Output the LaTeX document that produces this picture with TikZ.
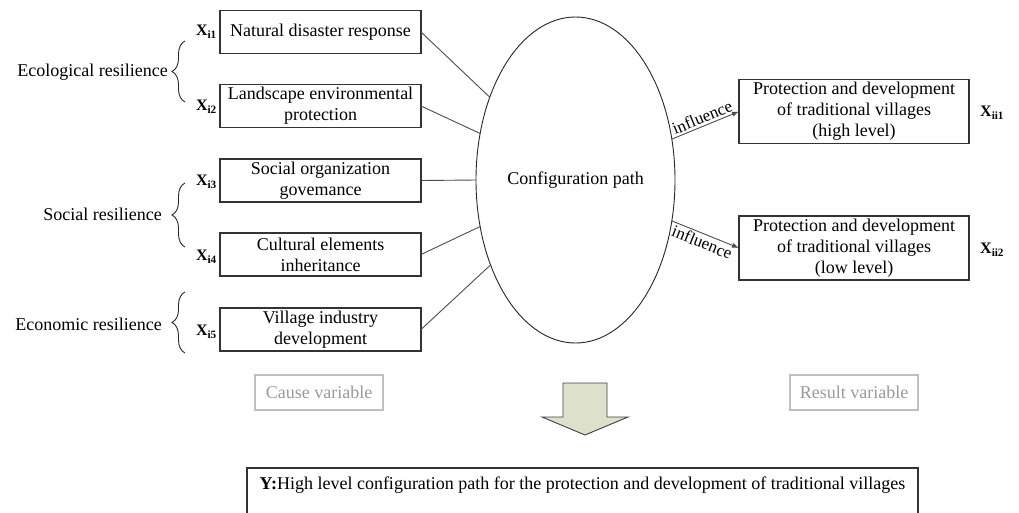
\documentclass[tikz,border=0pt]{standalone}
\usepackage{fontspec}
\setmainfont{Liberation Serif}
\usetikzlibrary{arrows.meta,decorations.pathreplacing,shapes.geometric}
\begin{document}
\begin{tikzpicture}[x=1pt,y=-1pt,
  txt/.style={font=\fontsize{18}{21}\selectfont},
  factor/.style={draw=black!80, line width=1.1pt, minimum width=201pt, minimum height=43pt,
                 inner sep=0pt, outer sep=0pt, align=center, txt},
  outcome/.style={draw=black!80, line width=1.1pt, minimum width=230pt, minimum height=64pt,
                  inner sep=0pt, outer sep=0pt, align=center, txt},
  varname/.style={font=\fontsize{16}{18}\selectfont\bfseries, inner sep=0pt},
  group/.style={txt, inner sep=0pt, anchor=east},
  link/.style={draw=black!70, line width=0.9pt},
  effect/.style={link, -{Latex[length=7pt,width=5pt]}},
  tag/.style={sloped, font=\fontsize{17}{20}\selectfont, inner sep=2pt, pos=0.5},
  curly/.style={draw=black!85, line width=0.9pt, decorate, decoration={brace, amplitude=13pt}},
  legendbox/.style={draw=black!25, line width=1.3pt, minimum width=128pt, minimum height=35pt,
                    inner sep=0pt, text=black!40, txt}
]
\useasboundingbox (0,0) rectangle (1019,512);

% cause variables
\node[factor] (f1) at (320.5,32)    {Natural disaster response};
\node[factor] (f2) at (320.5,106)   {Landscape environmental\\protection};
\node[factor] (f3) at (320.5,180.5) {Social organization\\govemance};
\node[factor] (f4) at (320.5,254.5) {Cultural elements\\inheritance};
\node[factor] (f5) at (320.5,329.5) {Village industry\\development};

\node[varname, anchor=east] (x1) at (217,32)  {X\textsubscript{i1}};
\node[varname, anchor=east] (x2) at (217,107) {X\textsubscript{i2}};
\node[varname, anchor=east] (x3) at (217,182) {X\textsubscript{i3}};
\node[varname, anchor=east] (x4) at (217,257) {X\textsubscript{i4}};
\node[varname, anchor=east] (x5) at (217,332) {X\textsubscript{i5}};

% resilience groups
\draw[curly] (185,102) -- (185,41);
\draw[curly] (185,247) -- (185,183);
\draw[curly] (185,353) -- (185,292);
\node[group] (g1) at (168,72)  {Ecological resilience};
\node[group] (g2) at (162,214) {Social resilience};
\node[group] (g3) at (162,324) {Economic resilience};

% configuration path
\node[draw=black!85, line width=0.9pt, ellipse, minimum width=199pt, minimum height=326pt,
      inner sep=0pt, outer sep=0pt, txt] (cp) at (575.5,180) {Configuration path};

\draw[link] (f1.east) -- (cp.136);
\draw[link] (f2.east) -- (cp.154);
\draw[link] (f3.east) -- (cp.180);
\draw[link] (f4.east) -- (cp.206);
\draw[link] (f5.east) -- (cp.225);

% result variables
\node[outcome] (hi) at (854,111.5) {Protection and development\\of traditional villages\\(high level)};
\node[outcome] (lo) at (854,248)   {Protection and development\\of traditional villages\\(low level)};
\node[varname, anchor=west] (xh) at (980,113) {X\textsubscript{ii1}};
\node[varname, anchor=west] (xl) at (980,250) {X\textsubscript{ii2}};

\draw[effect] (cp.23) -- node[tag, above] {influence} (hi.west);
\draw[effect] (cp.337) -- node[tag, below] {influence} (lo.west);

% legend
\node[legendbox] (cause)  at (319,392.5) {Cause variable};
\node[legendbox] (result) at (854,392.5) {Result variable};

% down arrow
\draw[draw=black!75, line width=0.9pt, fill={rgb,255:red,221;green,224;blue,203}, line join=miter]
  (563,383) -- (607,383) -- (607,417) -- (628,417) -- (585,435) -- (542,417) -- (563,417) -- cycle;

% conclusion
\node[draw=black!80, line width=1.1pt, minimum width=671pt, minimum height=70pt, anchor=north,
      inner sep=0pt, outer sep=0pt] (ybox) at (582.5,468) {};
\path (ybox.north) ++(0,17) node[txt, inner sep=0pt] (ytext)
  {\textbf{Y:}High level configuration path for the protection and development of traditional villages};
\end{tikzpicture}
\end{document}
